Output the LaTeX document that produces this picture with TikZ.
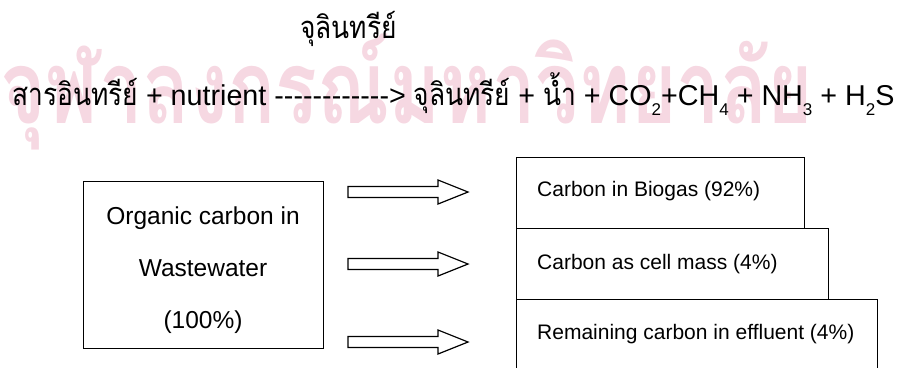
\documentclass[tikz,border=0pt]{standalone}
\usepackage{fontspec}
\setmainfont{Liberation Sans}
\newfontfamily\thaifont[Script=Thai]{Loma}
\newcommand\csub[1]{\raisebox{-10pt}{\fontsize{17}{17}\selectfont #1}}
\newcommand\hy{-\kern0pt}
\newcommand\thai[1]{\scalebox{0.85}[1]{\thaifont\fontsize{31}{31}\selectfont #1}}
\definecolor{wmpink}{RGB}{246,216,226}
\tikzset{
  wm/.style={inner sep=0, text=wmpink, font=\fontsize{85}{85}\selectfont},
  eqtext/.style={inner sep=0, anchor=base west, font=\fontsize{28.7}{28.7}\selectfont},
  lbox/.style={draw, line width=1.3pt, anchor=north west, inner sep=0},
  rbox/.style={draw, line width=1.3pt, anchor=north west, inner sep=0, fill=white},
  ltext/.style={inner sep=0, anchor=base, font=\fontsize{24.5}{24.5}\selectfont},
  rtext/.style={inner sep=0, anchor=base west, font=\fontsize{21}{21}\selectfont},
  blockarrow/.pic={\draw[line width=1.2pt, line join=miter, fill=white]
     (0,-5.5) -- (90,-5.5) -- (90,-12) -- (120,0) -- (90,12) -- (90,5.5) -- (0,5.5) -- cycle;}
}
\begin{document}
\begin{tikzpicture}[x=1pt,y=-1pt]
\useasboundingbox (0,0) rectangle (904,367);
\clip (0,0) rectangle (904,367);
% watermark
\node[wm, anchor=base west] (wmark) at (0,123) {\scalebox{0.916}[1.2]{\thaifont\bfseries จุฬาลงกรณ์มหาวิทยาลัย}};
% equation
\node[eqtext] (mic) at (300,38) {\thai{จุลินทรีย์}};
\node[eqtext] (eq) at (12,105) {\thai{สารอินทรีย์} + nutrient \hy\hy\hy\hy\hy\hy\hy\hy\hy\hy\hy\hy> \thai{จุลินทรีย์} + \thai{น้ำ} + CO\csub{2}+CH\csub{4} + NH\csub{3} + H\csub{2}S};
% left box
\node[lbox, minimum width=240pt, minimum height=167pt] (src) at (83,181) {};
\node[ltext] (t1) at (203,224) {Organic carbon in};
\node[ltext] (t2) at (203,276) {Wastewater};
\node[ltext] (t3) at (203,328) {(100\%)};
% arrows
\pic at (348,192) {blockarrow};
\pic at (348,264) {blockarrow};
\pic at (348,342) {blockarrow};
% right boxes
\node[rbox, minimum width=288pt, minimum height=71pt] (b1) at (516,157) {};
\node[rbox, minimum width=312pt, minimum height=71pt] (b2) at (516,228) {};
\node[rbox, minimum width=361pt, minimum height=90pt] (b3) at (516,299) {};
\node[rtext] (r1) at (537,196) {Carbon in Biogas (92\%)};
\node[rtext] (r2) at (537,269) {Carbon as cell mass (4\%)};
\node[rtext] (r3) at (537,339) {Remaining carbon in effluent (4\%)};
\end{tikzpicture}
\end{document}
